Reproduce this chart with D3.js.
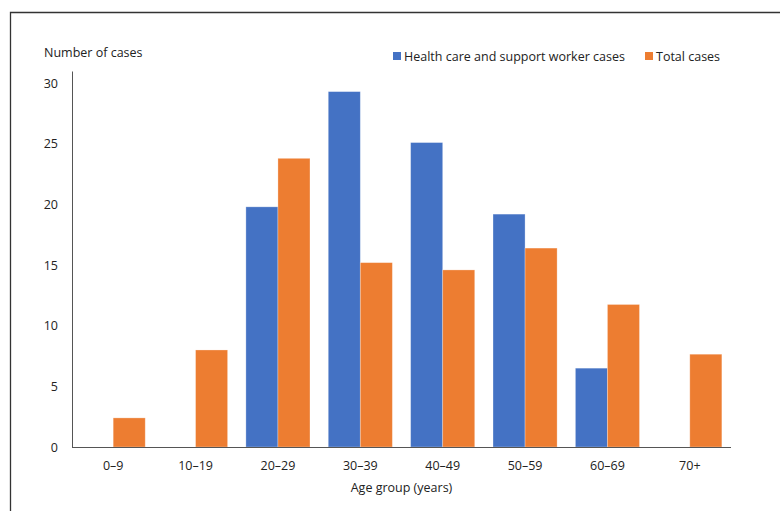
<!DOCTYPE html>
<html>
<head>
<meta charset="utf-8">
<script src="https://cdn.jsdelivr.net/npm/d3@7"></script>
<style>
  html, body { margin: 0; padding: 0; background: #fff; }
  svg { display: block; }
  text { font-family: "Open Sans", "Noto Sans", sans-serif; fill: #222; }
</style>
</head>
<body>
<svg id="chart" width="780" height="511"></svg>
<script>
// Age groups and case counts per series
const ageGroups = ["0–9", "10–19", "20–29", "30–39", "40–49", "50–59", "60–69", "70+"];
const healthCareWorkerCases = [0, 0, 19.8, 29.3, 25.1, 19.2, 6.5, 0];
const totalCases = [2.4, 8.0, 23.8, 15.2, 14.6, 16.4, 11.75, 7.65];
const seriesNames = ["Health care and support worker cases", "Total cases"];
const seriesColors = ["#4472C4", "#ED7D31"];
const yTicks = [0, 5, 10, 15, 20, 25, 30];

const svg = d3.select("#chart");
const margin = { left: 72, right: 49, top: 71, bottom: 64 };
const W = 780, H = 511;

// Outer frame (top and left edges)
svg.append("path")
  .attr("d", `M10.5,${H} L10.5,12.5 L${W},12.5`)
  .attr("fill", "none")
  .attr("stroke", "#333")
  .attr("stroke-width", 1.3);

const x = d3.scaleBand()
  .domain(ageGroups)
  .range([margin.left, W - margin.right])
  .paddingInner(0.222)
  .paddingOuter(0.111);

const xSeries = d3.scaleBand()
  .domain([0, 1])
  .range([0, x.bandwidth()]);

const y = d3.scaleLinear()
  .domain([0, 31])
  .range([H - margin.bottom, margin.top]);

// Bars
const rows = ageGroups.map((g, i) => ({ g, vals: [healthCareWorkerCases[i], totalCases[i]] }));
const groups = svg.append("g").selectAll("g")
  .data(rows)
  .join("g")
  .attr("transform", d => `translate(${x(d.g)},0)`);

groups.selectAll("rect")
  .data(d => d.vals.map((v, s) => ({ v, s })).filter(e => e.v > 0))
  .join("rect")
  .attr("x", d => xSeries(d.s))
  .attr("width", xSeries.bandwidth())
  .attr("y", d => y(d.v))
  .attr("height", d => y(0) - y(d.v))
  .attr("fill", d => seriesColors[d.s])
  .attr("stroke", "rgba(255,255,255,0.35)")
  .attr("stroke-width", 0.8);

// Y axis
const yAxis = svg.append("g")
  .attr("transform", `translate(${margin.left},0)`)
  .call(d3.axisLeft(y).tickValues(yTicks).tickSize(0).tickPadding(14));
yAxis.select(".domain").attr("stroke", "#555").attr("stroke-width", 1);
yAxis.selectAll("text").style("font-size", "12.5px").attr("fill", "#222");

// X axis
const xAxis = svg.append("g")
  .attr("transform", `translate(0,${y(0)})`)
  .call(d3.axisBottom(x).tickSize(0).tickPadding(14));
xAxis.select(".domain").attr("stroke", "#555").attr("stroke-width", 1)
  .attr("d", `M${margin.left},0.5H${W - margin.right}`);
xAxis.selectAll("text").style("font-size", "12.5px").attr("fill", "#222");

// Axis titles
svg.append("text")
  .attr("x", 44).attr("y", 57)
  .style("font-size", "12.5px")
  .text("Number of cases");

svg.append("text")
  .attr("x", (margin.left + W - margin.right) / 2).attr("y", 492)
  .attr("text-anchor", "middle")
  .style("font-size", "12.5px")
  .text("Age group (years)");

// Legend
const legendItems = [{ x: 393 }, { x: 645 }];
const legend = svg.append("g").selectAll("g")
  .data(seriesNames)
  .join("g")
  .attr("transform", (d, i) => `translate(${legendItems[i].x},0)`);
legend.append("rect")
  .attr("x", 0).attr("y", 52)
  .attr("width", 8).attr("height", 8)
  .attr("fill", (d, i) => seriesColors[i]);
legend.append("text")
  .attr("x", 11).attr("y", 61)
  .style("font-size", "12.5px")
  .text(d => d);
</script>
</body>
</html>
